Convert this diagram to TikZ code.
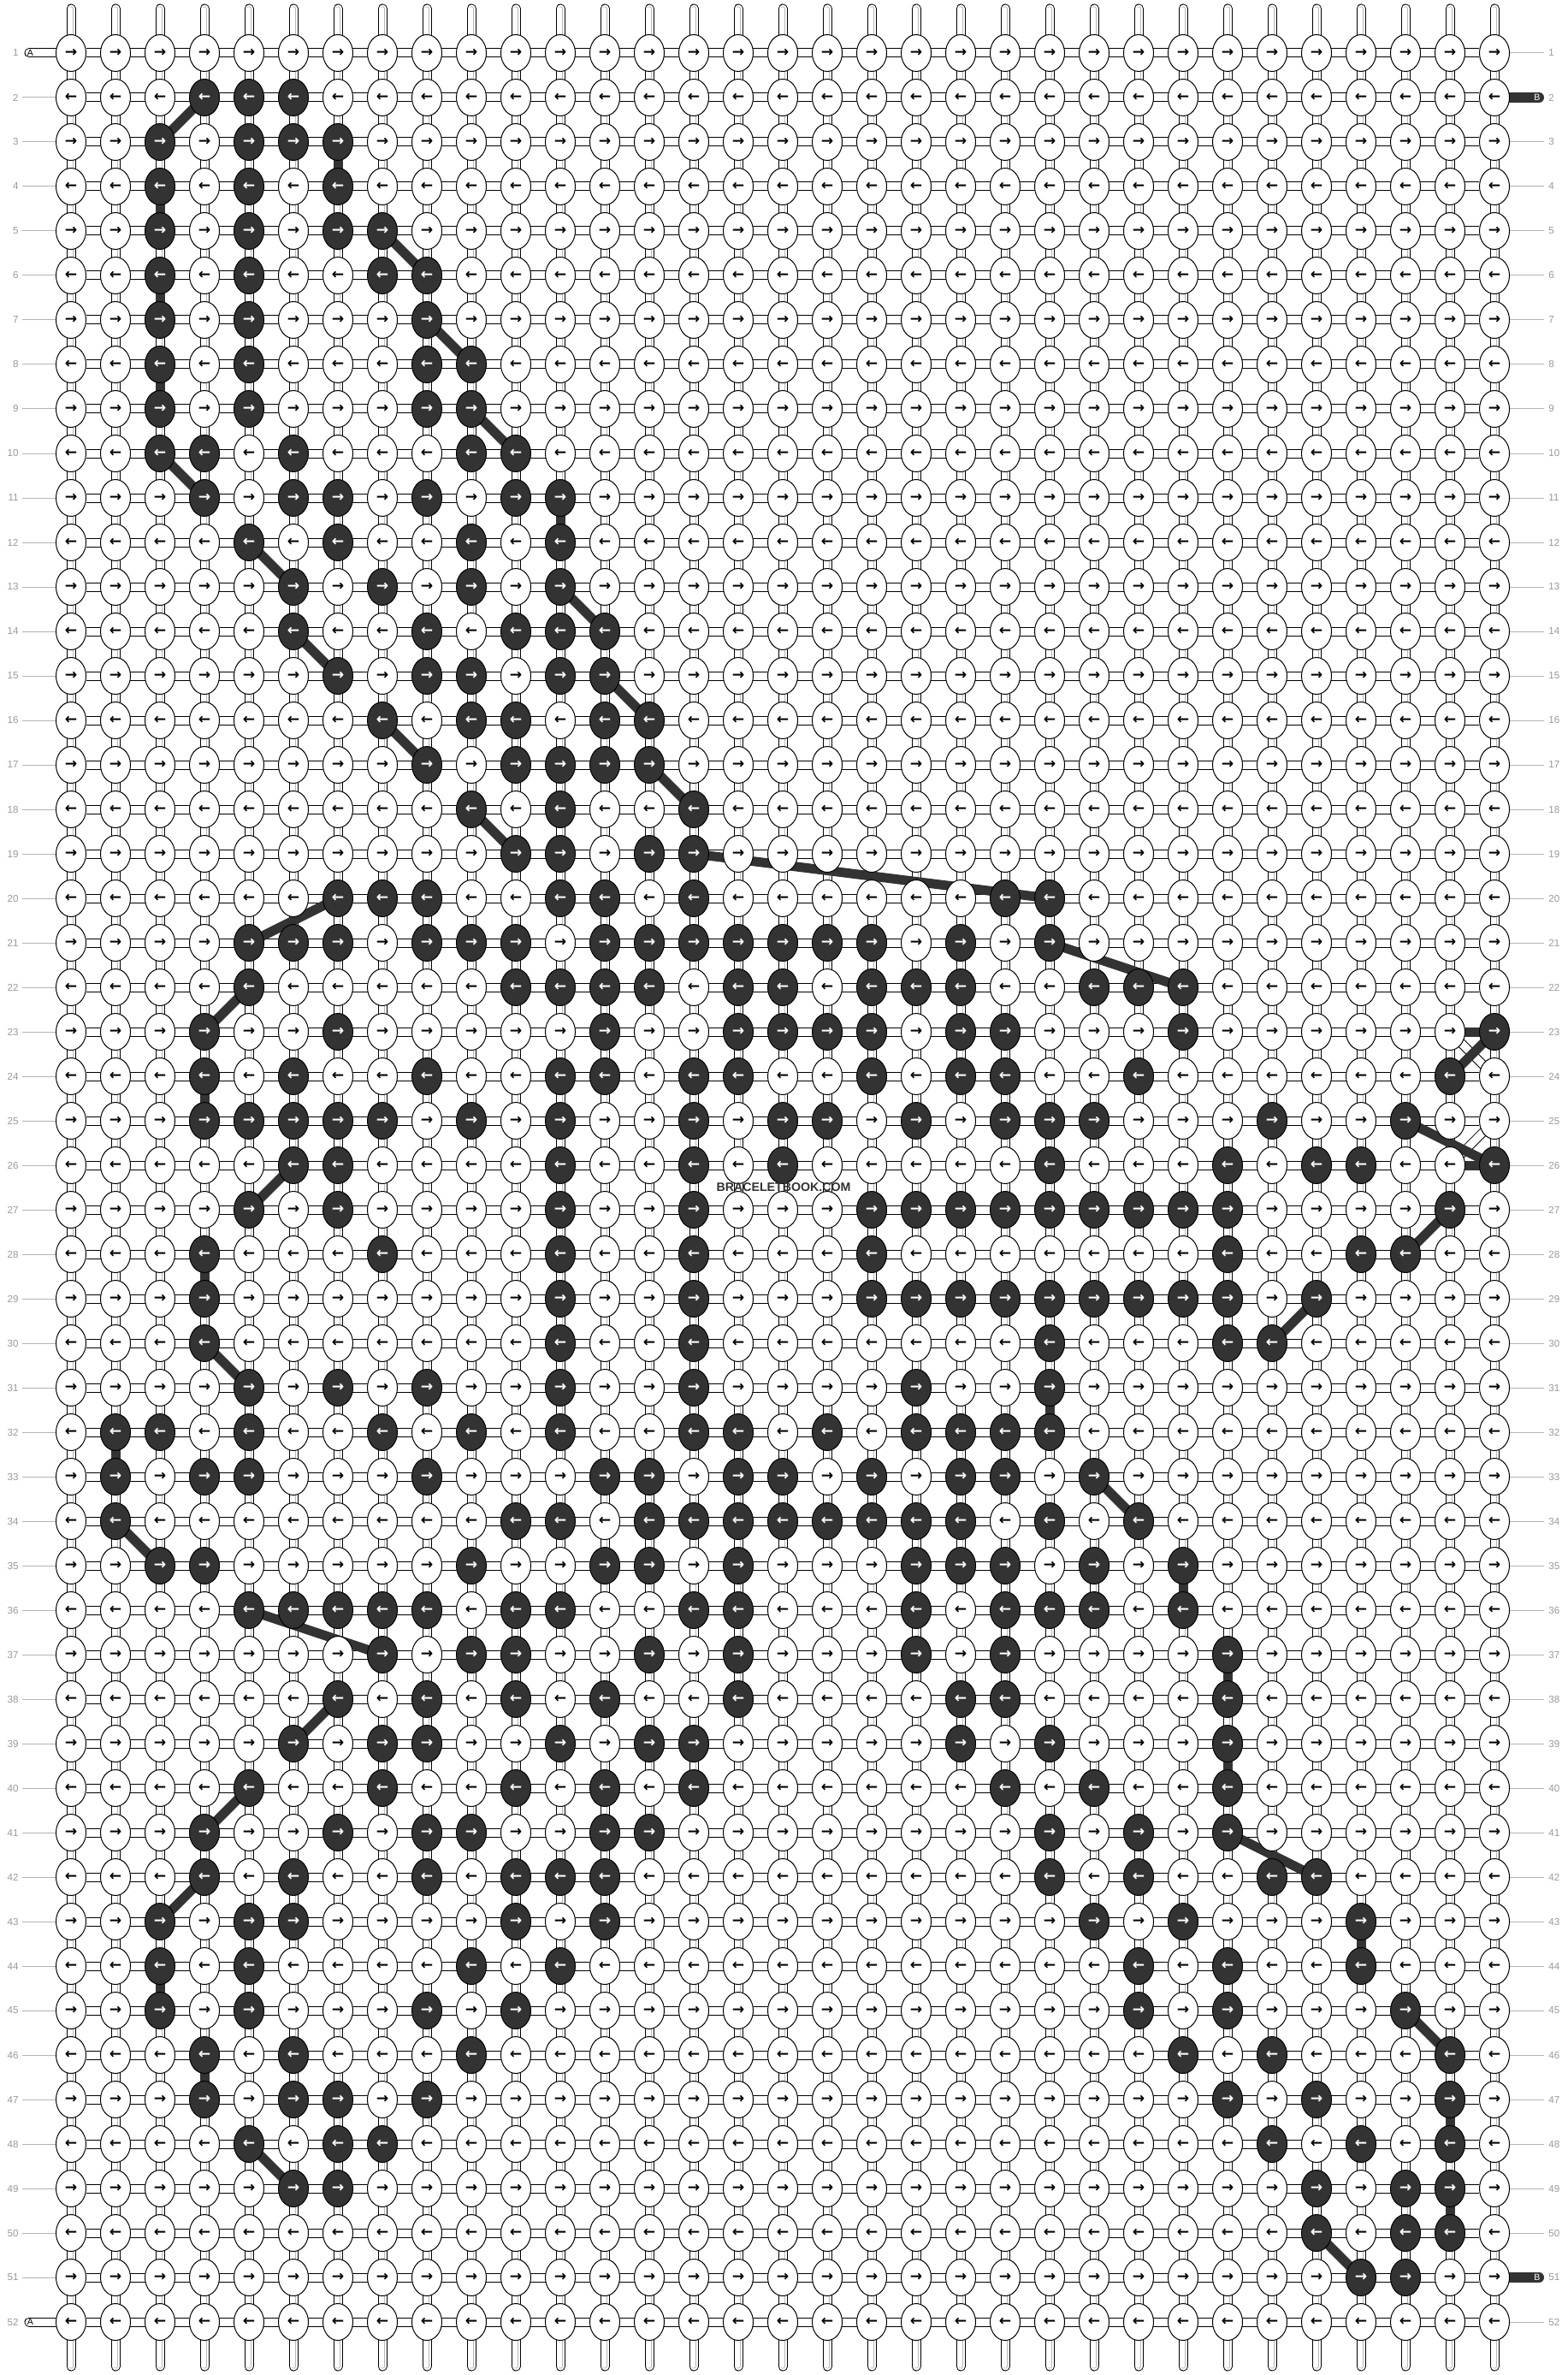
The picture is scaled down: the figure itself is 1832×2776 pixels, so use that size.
\documentclass[tikz,border=0pt]{standalone}
\usepackage{fontspec}
\setmainfont{Liberation Sans}
\newfontfamily\arrowfont{DejaVu Sans}
\usetikzlibrary{shapes.geometric}
\definecolor{dk}{HTML}{333333}
\definecolor{lblc}{HTML}{999999}
\definecolor{lbllinec}{HTML}{B4B4B4}
\definecolor{strg}{HTML}{B8B8B8}
\pgfdeclarelayer{bg}
\pgfsetlayers{bg,main}
\makeatletter
\newcommand\setrow[2]{\expandafter\def\csname dk@#1\endcsname{#2}}
\newcommand\ifdarkknot[4]{\edef\kn@t{\noexpand\in@{,#2,}{,\csname dk@#1\endcsname,}}\kn@t
  \ifin@\expandafter\@firstoftwo\else\expandafter\@secondoftwo\fi{#3}{#4}}
\makeatother
\setrow{1}{}
\setrow{2}{4,5,6}
\setrow{3}{3,5,6,7}
\setrow{4}{3,5,7}
\setrow{5}{3,5,7,8}
\setrow{6}{3,5,8,9}
\setrow{7}{3,5,9}
\setrow{8}{3,5,9,10}
\setrow{9}{3,5,9,10}
\setrow{10}{3,4,6,10,11}
\setrow{11}{4,6,7,9,11,12}
\setrow{12}{5,7,10,12}
\setrow{13}{6,8,10,12}
\setrow{14}{6,9,11,12,13}
\setrow{15}{7,9,10,12,13}
\setrow{16}{8,10,11,13,14}
\setrow{17}{9,11,12,13,14}
\setrow{18}{10,12,15}
\setrow{19}{11,12,14,15}
\setrow{20}{7,8,9,12,13,15,22,23}
\setrow{21}{5,6,7,9,10,11,13,14,15,16,17,18,19,21,23}
\setrow{22}{5,11,12,13,14,16,17,19,20,21,24,25,26}
\setrow{23}{4,7,13,16,17,18,19,21,22,26,33}
\setrow{24}{4,6,9,12,13,15,16,19,21,22,25,32}
\setrow{25}{4,5,6,7,8,10,12,15,17,18,20,22,23,24,28,31}
\setrow{26}{6,7,12,15,17,23,27,29,30,33}
\setrow{27}{5,7,12,15,19,20,21,22,23,24,25,26,27,32}
\setrow{28}{4,8,12,15,19,27,30,31}
\setrow{29}{4,12,15,19,20,21,22,23,24,25,26,27,29}
\setrow{30}{4,12,15,23,27,28}
\setrow{31}{5,7,9,12,15,20,23}
\setrow{32}{2,3,5,8,10,12,15,16,18,20,21,22,23}
\setrow{33}{2,4,5,9,13,14,16,17,19,21,22,24}
\setrow{34}{2,11,12,14,15,16,17,18,19,20,21,23,25}
\setrow{35}{3,4,10,13,14,16,20,21,22,24,26}
\setrow{36}{5,6,7,8,9,11,12,15,16,20,22,23,24,26}
\setrow{37}{8,10,11,14,16,20,22,27}
\setrow{38}{7,9,11,13,16,21,22,27}
\setrow{39}{6,8,9,12,14,15,21,23,27}
\setrow{40}{5,8,11,13,15,22,24,27}
\setrow{41}{4,7,9,10,13,14,23,25,27}
\setrow{42}{4,6,9,11,12,13,23,25,28,29}
\setrow{43}{3,5,6,11,13,24,26,30}
\setrow{44}{3,5,10,12,25,27,30}
\setrow{45}{3,5,9,11,25,27,31}
\setrow{46}{4,6,10,26,28,32}
\setrow{47}{4,6,7,9,27,29,32}
\setrow{48}{5,7,8,28,30,32}
\setrow{49}{6,7,29,31,32}
\setrow{50}{29,31,32}
\setrow{51}{30,31}
\setrow{52}{}
\begin{document}
\begin{tikzpicture}[x=0.5pt,y=-0.5pt,
  knot/.style={ellipse, draw=black, line width=0.5pt, minimum width=17.5pt,
    minimum height=21.5pt, inner sep=0pt,
    font=\arrowfont\bfseries\fontsize{8.6}{8.6}\selectfont},
  wknot/.style={knot, fill=white, text=black},
  dknot/.style={knot, fill=dk, text=white},
  htube/.style={draw=black, line width=0.5pt, double=white, double distance=4.5pt},
  atube/.style={htube, line cap=round},
  vtube/.style={draw=black, line width=0.5pt, double=white, double distance=4.5pt,
    line cap=round,
    postaction={draw=strg, line width=0.45pt, double=white, double distance=1.6pt}},
  btube/.style={draw=dk, line width=6pt, line cap=round},
  dkline/.style={draw=dk, line width=5.5pt},
  lblline/.style={draw=lbllinec, line width=0.5pt},
  lblL/.style={anchor=east, inner xsep=2pt, inner ysep=0pt, text=lblc,
    font=\fontsize{5.8}{6}\selectfont},
  lblR/.style={anchor=west, inner xsep=2.5pt, inner ysep=0pt, text=lblc,
    font=\fontsize{5.8}{6}\selectfont},
  mrk/.style={inner sep=0pt, font=\fontsize{5.3}{5.5}\selectfont}
]
\useasboundingbox (0,0) rectangle (1832,2776);
\begin{pgfonlayer}{bg}
\fill[white] (0,0) rectangle (1832,2776);
\end{pgfonlayer}
% knots
\foreach \r in {1,...,52}{
  \pgfmathtruncatemacro\Y{62+(\r-1)*52}
  \ifodd\r\relax\def\ar{→}\else\def\ar{←}\fi
  \foreach \c in {1,...,33}{
    \pgfmathtruncatemacro\X{83+(\c-1)*52}
    \ifdarkknot{\r}{\c}%
      {\node[dknot] (k-\r-\c) at (\X,\Y) {\ar};}%
      {\node[wknot] (k-\r-\c) at (\X,\Y) {\ar};}
  }
  \node[lblL] (ll-\r) at (26,\Y) {\r};
  \node[lblR] (lr-\r) at (1805,\Y) {\r};
}
% string ends
\foreach \c in {1,...,33}{
  \pgfmathtruncatemacro\X{83+(\c-1)*52}
  \coordinate (top-\c) at (\X,10);
  \coordinate (bot-\c) at (\X,2766);
}
\coordinate (aL-1) at (34,62);
\coordinate (aL-52) at (34,2714);
\coordinate (bR-2) at (1799,114);
\coordinate (bR-51) at (1799,2662);
\node[mrk, text=black] (aT-1) at (35.5,62) {A};
\node[mrk, text=black] (aT-52) at (35.5,2714) {A};
\node[mrk, text=white] (bT-2) at (1797,114) {B};
\node[mrk, text=white] (bT-51) at (1797,2662) {B};
\node[font=\bfseries\fontsize{7.1}{7.1}\selectfont, text=dk, inner sep=0pt] (wm) at (916,1388) {BRACELETBOOK.COM};
\begin{pgfonlayer}{bg}
  \foreach \c in {1,...,33}{ \draw[vtube] (top-\c) -- (bot-\c); }
  \foreach \r in {1,...,52}{
    \draw[htube] (k-\r-1) -- (k-\r-33);
    \ifnum\r=1\relax\else\ifnum\r=52\relax\else
      \draw[lblline] (ll-\r.east) -- (k-\r-1);
    \fi\fi
    \ifnum\r=2\relax\else\ifnum\r=51\relax\else
      \draw[lblline] (k-\r-33) -- (lr-\r.west);
    \fi\fi
  }
  \draw[atube] (aL-1) -- (k-1-1);
  \draw[atube] (aL-52) -- (k-52-1);
  \draw[btube] (k-2-33) -- (bR-2);
  \draw[btube] (k-51-33) -- (bR-51);
  % edge strands of the light thread
  \draw[htube] (k-23-32.center) -- (k-24-33.center);
  \draw[htube] (k-25-33.center) -- (k-26-32.center);
  % path of the dark thread
  \draw[dkline] (k-23-32.center) -- (k-23-33.center);
  \draw[dkline] (k-26-32.center) -- (k-26-33.center);
  \foreach \ra/\ca/\rb/\cb in {2/4/3/3, 3/7/4/7, 4/3/5/3, 5/8/6/9, 6/3/7/3,
    7/9/8/10, 8/3/9/3, 9/10/10/11, 10/3/11/4, 11/12/12/12, 12/5/13/6,
    13/12/14/13, 14/6/15/7, 15/13/16/14, 16/8/17/9, 17/14/18/15, 18/10/19/11,
    19/15/20/23, 20/7/21/5, 21/23/22/26, 22/5/23/4, 23/33/24/32, 24/4/25/4,
    25/31/26/33, 26/6/27/5, 27/32/28/31, 28/4/29/4, 29/29/30/28, 30/4/31/5,
    31/23/32/23, 32/2/33/2, 33/24/34/25, 34/2/35/3, 35/26/36/26, 36/5/37/8,
    37/27/38/27, 38/7/39/6, 39/27/40/27, 40/5/41/4, 41/27/42/29, 42/4/43/3,
    43/30/44/30, 44/3/45/3, 45/31/46/32, 46/4/47/4, 47/32/48/32, 48/5/49/6,
    49/32/50/32, 50/29/51/30}{
    \draw[dkline] (k-\ra-\ca.center) -- (k-\rb-\cb.center);
  }
\end{pgfonlayer}
\end{tikzpicture}
\end{document}
